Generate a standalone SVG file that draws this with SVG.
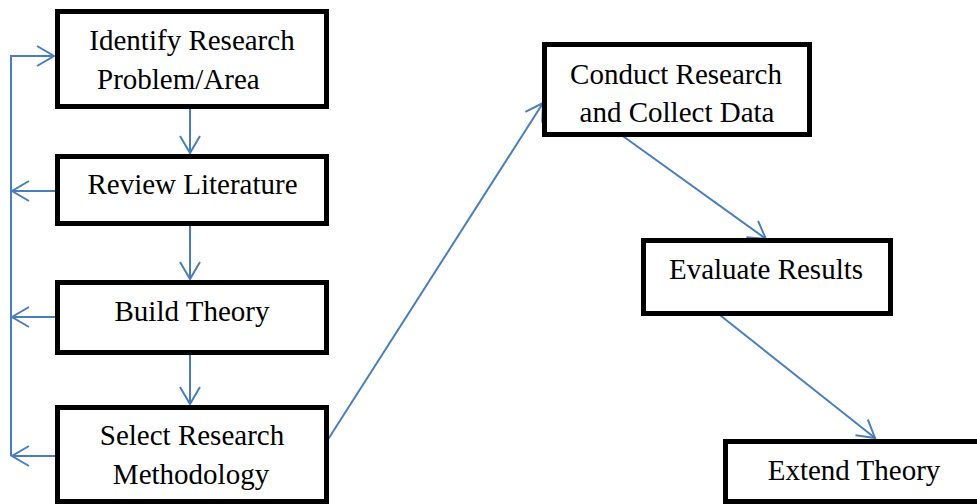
<svg xmlns="http://www.w3.org/2000/svg" width="977" height="504" viewBox="0 0 977 504">
  <style>
    .box { fill: #ffffff; stroke: #000000; stroke-width: 5; }
    .label { font-family: "Liberation Serif", "Times New Roman", serif; font-size: 29px; fill: #000000; }
    .mid { text-anchor: middle; }
    .link { fill: none; stroke: #4a7ebb; stroke-width: 2; }
  </style>
  <defs>
    <marker id="arrow" markerUnits="userSpaceOnUse" viewBox="-20 -12 22 24" markerWidth="22" markerHeight="24" refX="0" refY="0" orient="auto" overflow="visible">
      <path d="M-17,-10 L0,0 L-17,10" fill="none" stroke="#4a7ebb" stroke-width="2"/>
    </marker>
  </defs>

  <rect width="977" height="504" fill="#ffffff"/>

  <g id="connectors">
    <!-- main column -->
    <line class="link" x1="190" y1="109" x2="190" y2="153" marker-end="url(#arrow)"/>
    <line class="link" x1="190" y1="226" x2="190" y2="279" marker-end="url(#arrow)"/>
    <line class="link" x1="190" y1="355" x2="190" y2="404" marker-end="url(#arrow)"/>
    <!-- feedback rail -->
    <line class="link" x1="11" y1="56" x2="11" y2="456"/>
    <line class="link" x1="10" y1="56" x2="54" y2="56" marker-end="url(#arrow)"/>
    <line class="link" x1="55" y1="191" x2="12" y2="191" marker-end="url(#arrow)"/>
    <line class="link" x1="55" y1="317" x2="12" y2="317" marker-end="url(#arrow)"/>
    <line class="link" x1="55" y1="456" x2="12" y2="456" marker-end="url(#arrow)"/>
    <!-- right branch -->
    <line class="link" x1="327" y1="441" x2="543" y2="103" marker-end="url(#arrow)"/>
    <line class="link" x1="620" y1="134" x2="766" y2="239" marker-end="url(#arrow)"/>
    <line class="link" x1="716" y1="312" x2="875" y2="438" marker-end="url(#arrow)"/>
  </g>

  <g id="identify">
    <rect class="box" x="57.5" y="11.5" width="269" height="95"/>
    <text class="label mid" x="192" y="50">Identify Research</text>
    <text class="label" x="97" y="89">Problem/Area</text>
  </g>

  <g id="review">
    <rect class="box" x="57.5" y="156.5" width="269" height="67"/>
    <text class="label mid" x="192.5" y="194">Review Literature</text>
  </g>

  <g id="build">
    <rect class="box" x="57.5" y="282.5" width="269" height="70"/>
    <text class="label mid" x="192" y="321">Build Theory</text>
  </g>

  <g id="select">
    <rect class="box" x="57.5" y="407.5" width="269" height="94"/>
    <text class="label mid" x="192" y="445">Select Research</text>
    <text class="label mid" x="191" y="484">Methodology</text>
  </g>

  <g id="conduct">
    <rect class="box" x="544.5" y="44.5" width="265" height="90"/>
    <text class="label mid" x="676" y="84">Conduct Research</text>
    <text class="label mid" x="677" y="122">and Collect Data</text>
  </g>

  <g id="evaluate">
    <rect class="box" x="643.5" y="240.5" width="247" height="73"/>
    <text class="label mid" x="766" y="279">Evaluate Results</text>
  </g>

  <g id="extend">
    <rect class="box" x="725.5" y="441.5" width="257" height="60"/>
    <text class="label mid" x="854" y="480">Extend Theory</text>
  </g>
</svg>
